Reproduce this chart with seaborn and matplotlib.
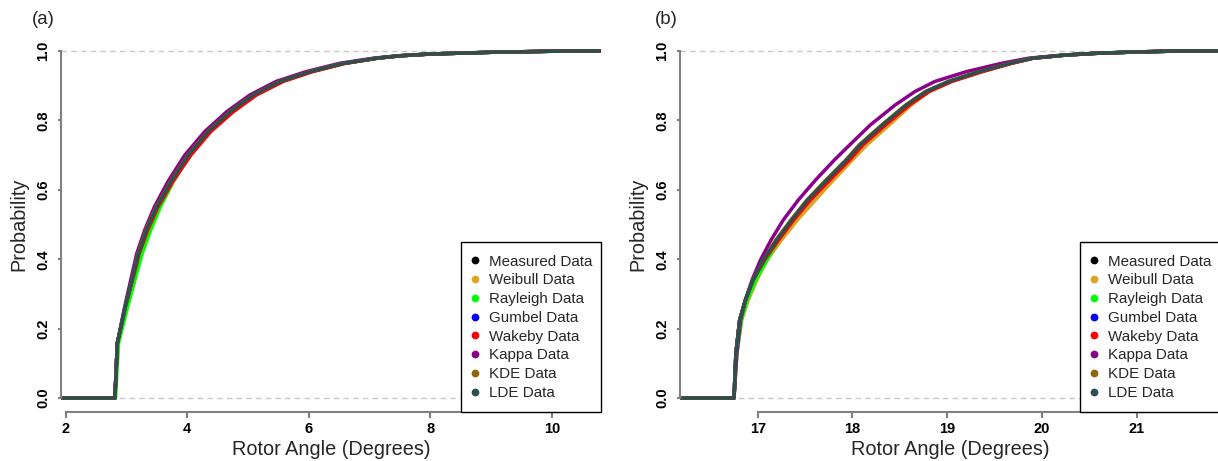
import numpy as np
import pandas as pd
import matplotlib
matplotlib.use("Agg")
import matplotlib.pyplot as plt
from matplotlib.lines import Line2D
from matplotlib.patches import Rectangle
import seaborn as sns

# ---------------- data ----------------
series_names = ["Measured Data", "Weibull Data", "Rayleigh Data", "Gumbel Data",
                "Wakeby Data", "Kappa Data", "KDE Data", "LDE Data"]
series_colors = ["#000000", "#DAA520", "#00FF00", "#0000FF",
                 "#FF0000", "#8B008B", "#8B6508", "#2F4F4F"]

# Panel (a): cumulative probability levels and x positions per series
prob_a = [0.0, 0.0, 0.158, 0.263, 0.340, 0.417, 0.484, 0.551, 0.623, 0.700, 0.768, 0.825,
          0.873, 0.912, 0.940, 0.964, 0.979, 0.986, 0.991, 0.996, 0.999, 1.0, 1.0]
measured_a = [1.5, 2.81, 2.85, 2.98, 3.09, 3.20, 3.33, 3.50, 3.73, 4.02, 4.35, 4.71,
              5.09, 5.53, 6.02, 6.57, 7.12, 7.51, 8.00, 9.00, 10.00, 10.60, 12.0]
weibull_a = [1.5, 2.81, 2.85, 2.99, 3.10, 3.21, 3.34, 3.51, 3.74, 4.03, 4.36, 4.72,
             5.10, 5.54, 6.03, 6.58, 7.12, 7.51, 8.00, 9.00, 10.00, 10.60, 12.0]
rayleigh_a = [1.5, 2.82, 2.87, 3.02, 3.14, 3.26, 3.40, 3.56, 3.77, 4.04, 4.36, 4.72,
              5.10, 5.54, 6.03, 6.57, 7.12, 7.51, 8.00, 9.00, 10.00, 10.60, 12.0]
gumbel_a = [1.5, 2.81, 2.85, 2.98, 3.09, 3.20, 3.33, 3.50, 3.73, 4.03, 4.36, 4.72,
            5.10, 5.54, 6.03, 6.57, 7.12, 7.51, 8.00, 9.00, 10.00, 10.60, 12.0]
wakeby_a = [1.5, 2.81, 2.85, 2.98, 3.10, 3.21, 3.35, 3.52, 3.76, 4.06, 4.39, 4.76,
            5.14, 5.58, 6.06, 6.60, 7.14, 7.52, 8.00, 9.00, 10.00, 10.60, 12.0]
kappa_a = [1.5, 2.81, 2.85, 2.97, 3.07, 3.17, 3.30, 3.46, 3.68, 3.96, 4.29, 4.65,
           5.03, 5.46, 5.95, 6.50, 7.06, 7.47, 7.97, 8.98, 10.00, 10.60, 12.0]
kde_a = [1.5, 2.81, 2.85, 2.98, 3.09, 3.19, 3.32, 3.49, 3.72, 4.01, 4.34, 4.70,
         5.08, 5.52, 6.01, 6.56, 7.11, 7.50, 8.00, 9.00, 10.00, 10.60, 12.0]
lde_a = [1.5, 2.81, 2.85, 2.98, 3.09, 3.20, 3.33, 3.50, 3.73, 4.02, 4.35, 4.71,
         5.09, 5.53, 6.02, 6.57, 7.12, 7.51, 8.00, 9.00, 10.00, 10.60, 12.0]

# Panel (b)
prob_b = [0.0, 0.0, 0.129, 0.225, 0.282, 0.340, 0.398, 0.455, 0.513, 0.571, 0.628, 0.686,
          0.729, 0.787, 0.844, 0.883, 0.912, 0.940, 0.964, 0.979, 0.988, 0.993, 0.997, 1.0, 1.0]
measured_b = [15.5, 16.75, 16.77, 16.81, 16.87, 16.95, 17.06, 17.20, 17.36, 17.53, 17.73, 17.94,
              18.08, 18.32, 18.57, 18.78, 19.02, 19.34, 19.66, 19.90, 20.25, 20.57, 21.00, 21.50, 23.0]
weibull_b = [15.5, 16.75, 16.78, 16.83, 16.90, 16.99, 17.10, 17.25, 17.42, 17.61, 17.80, 18.00,
             18.15, 18.39, 18.62, 18.81, 19.04, 19.35, 19.67, 19.91, 20.26, 20.58, 21.00, 21.50, 23.0]
rayleigh_b = [15.5, 16.75, 16.78, 16.83, 16.89, 16.98, 17.10, 17.22, 17.37, 17.54, 17.73, 17.94,
              18.08, 18.32, 18.57, 18.78, 19.02, 19.34, 19.66, 19.90, 20.25, 20.57, 21.00, 21.50, 23.0]
gumbel_b = [15.5, 16.75, 16.77, 16.81, 16.87, 16.95, 17.07, 17.21, 17.37, 17.54, 17.74, 17.95,
            18.09, 18.33, 18.58, 18.79, 19.03, 19.35, 19.66, 19.90, 20.25, 20.57, 21.00, 21.50, 23.0]
wakeby_b = [15.5, 16.75, 16.77, 16.81, 16.87, 16.95, 17.07, 17.22, 17.38, 17.56, 17.76, 17.97,
            18.11, 18.35, 18.60, 18.81, 19.05, 19.37, 19.68, 19.91, 20.26, 20.58, 21.00, 21.50, 23.0]
kappa_b = [15.5, 16.75, 16.78, 16.82, 16.87, 16.94, 17.03, 17.14, 17.27, 17.43, 17.61, 17.81,
           17.97, 18.19, 18.45, 18.66, 18.87, 19.20, 19.57, 19.86, 20.22, 20.55, 21.00, 21.50, 23.0]
kde_b = [15.5, 16.75, 16.77, 16.81, 16.87, 16.95, 17.06, 17.19, 17.35, 17.52, 17.72, 17.93,
         18.07, 18.31, 18.56, 18.77, 19.01, 19.33, 19.65, 19.90, 20.25, 20.57, 21.00, 21.50, 23.0]
lde_b = [15.5, 16.75, 16.77, 16.81, 16.87, 16.95, 17.06, 17.20, 17.36, 17.53, 17.73, 17.94,
         18.08, 18.32, 18.57, 18.78, 19.02, 19.34, 19.66, 19.90, 20.25, 20.57, 21.00, 21.50, 23.0]

xticks_a = [2, 4, 6, 8, 10]
xticks_b = [17, 18, 19, 20, 21]
yticks = [0.0, 0.2, 0.4, 0.6, 0.8, 1.0]
ytick_labels = ["0.0", "0.2", "0.4", "0.6", "0.8", "1.0"]
panel_labels = ["(a)", "(b)"]
xlabel = "Rotor Angle (Degrees)"
ylabel = "Probability"

# ---------------- build long tables ----------------
def long_table(xs_list, probs):
    rows = []
    for name, xs in zip(series_names, xs_list):
        for i, (x, p) in enumerate(zip(xs, probs)):
            rows.append({"series": name, "x": x, "p": p, "order": i})
    return pd.DataFrame(rows)

df_a = long_table([measured_a, weibull_a, rayleigh_a, gumbel_a, wakeby_a, kappa_a, kde_a, lde_a], prob_a)
df_b = long_table([measured_b, weibull_b, rayleigh_b, gumbel_b, wakeby_b, kappa_b, kde_b, lde_b], prob_b)

# ---------------- figure ----------------
sns.set_theme(style="white")
plt.rcParams["font.family"] = ["Liberation Sans", "DejaVu Sans"]

W, H = 1218, 461
fig = plt.figure(figsize=(W / 100, H / 100), dpi=100)
ax_a = fig.add_axes([61 / W, (H - 412) / H, 540 / W, 375 / H])
ax_b = fig.add_axes([680 / W, (H - 412) / H, 540 / W, 375 / H])

palette = dict(zip(series_names, series_colors))
spine_col = "#808080"

configs = [
    (ax_a, df_a, (1.923, 10.806), xticks_a, panel_labels[0], 43),
    (ax_b, df_b, (16.18, 21.879), xticks_b, panel_labels[1], 666),
]

leg_left, leg_top = 0.7402, 0.4541

for ax, df, xlim, xt, plab, labx in configs:
    ax.axhline(0, color="#c8c8c8", lw=1.0, ls=(0, (4, 3)), zorder=0)
    ax.axhline(1, color="#c8c8c8", lw=1.0, ls=(0, (4, 3)), zorder=0)
    for name in series_names:
        sub = df[df["series"] == name].sort_values("order")
        sns.lineplot(data=sub, x="x", y="p", color=palette[name], sort=False,
                     estimator=None, lw=2.5, ax=ax, legend=False)
    ax.set_xlim(*xlim)
    ax.set_ylim(-0.04, 1.04)
    ax.set_xticks(xt)
    ax.set_xticklabels([str(v) for v in xt], fontweight="bold", fontsize=10.5)
    ax.set_yticks(yticks)
    ax.set_yticklabels(ytick_labels, fontweight="bold", fontsize=10.5,
                       rotation=90, va="center")
    for s in ["top", "right"]:
        ax.spines[s].set_visible(False)
    ax.spines["left"].set_bounds(0, 1)
    ax.spines["bottom"].set_bounds(xt[0], xlim[1])
    for s in ["left", "bottom"]:
        ax.spines[s].set_color(spine_col)
        ax.spines[s].set_linewidth(1.5)
    ax.tick_params(axis="x", direction="out", length=4, width=1.5, color=spine_col,
                   pad=3, labelcolor="black", bottom=True)
    ax.tick_params(axis="y", direction="out", length=2.5, width=1.5, color=spine_col,
                   pad=5, labelcolor="black", left=True)
    ax.set_xlabel(xlabel, fontsize=14.3)
    ax.set_ylabel(ylabel, fontsize=14.3)
    ax.xaxis.set_label_coords(0.5, -0.075)
    ax.yaxis.set_label_coords(-0.06, 0.5)
    ax.grid(False)

    # legend box (R-style, flush with bottom-right of the plot region)
    box = Rectangle((leg_left, 0.0), 1.0 - leg_left, leg_top, transform=ax.transAxes,
                    facecolor="white", edgecolor="black", lw=1.0, zorder=5, clip_on=False)
    ax.add_patch(box)
    handles = [Line2D([], [], ls="", marker="o", markersize=5.6, color=c,
                      markeredgewidth=0) for c in series_colors]
    leg = ax.legend(handles, series_names, loc="upper left",
                    bbox_to_anchor=(leg_left, leg_top),
                    borderaxespad=0.0, fontsize=10.9, frameon=False,
                    borderpad=0.854, handlelength=0.146, handletextpad=0.894,
                    labelspacing=0.315)
    leg.set_zorder(6)

    fig.text(labx / W, 1 - 20 / H, plab, fontsize=13.4, ha="center", va="center")

fig.savefig("out.png", dpi=100)
